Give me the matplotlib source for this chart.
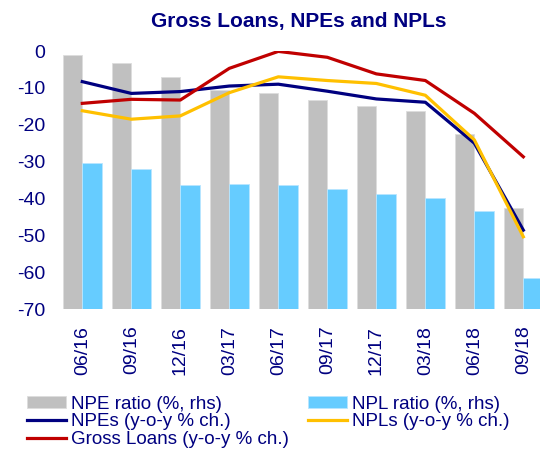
import matplotlib
matplotlib.use("Agg")
import matplotlib.pyplot as plt
import numpy as np

plt.rcParams['font.family'] = ['Liberation Sans', 'DejaVu Sans']
plt.rcParams['axes.unicode_minus'] = False

categories = ["06/16", "09/16", "12/16", "03/17", "06/17", "09/17", "12/17", "03/18", "06/18", "09/18"]
npe_ratio = [54.4, 53.4, 51.5, 49.7, 49.3, 48.3, 47.6, 46.9, 43.7, 33.7]
npl_ratio = [39.8, 39.0, 36.8, 36.9, 36.8, 36.3, 35.6, 35.1, 33.3, 24.2]
npes_yoy = [-8.3, -11.5, -11.0, -9.5, -9.0, -10.9, -13.0, -13.9, -25.0, -48.6]
npls_yoy = [-16.2, -18.5, -17.6, -11.3, -7.0, -8.0, -8.8, -12.0, -24.1, -50.4]
gross_loans_yoy = [-14.2, -13.1, -13.3, -4.7, -0.1, -1.7, -6.2, -8.0, -16.9, -28.7]

NAVY = '#000080'
GRAY = '#C0C0C0'
LBLUE = '#66CCFF'
GOLD = '#FFC000'
RED = '#C00000'

fig = plt.figure(figsize=(5.4, 4.5), dpi=100)
ax = fig.add_axes([0.107, 0.3133, 1.0145 - 0.107, 0.5733])
ax2 = ax.twinx()

x = np.arange(len(categories))
w = 0.4
ax2.bar(x - w / 2, npe_ratio, width=w, color=GRAY, edgecolor='#DDDDDD', linewidth=0.6,
        label='NPE ratio (%, rhs)')
ax2.bar(x + w / 2, npl_ratio, width=w, color=LBLUE, edgecolor='#B8E6FF', linewidth=0.6,
        label='NPL ratio (%, rhs)')
ax2.set_ylim(20, 55)
ax2.set_yticks([])
for s in ax2.spines.values():
    s.set_visible(False)

ax.plot(x, npes_yoy, color=NAVY, lw=2.3, label='NPEs (y-o-y % ch.)')
ax.plot(x, npls_yoy, color=GOLD, lw=2.3, label='NPLs (y-o-y % ch.)')
ax.plot(x, gross_loans_yoy, color=RED, lw=2.3, label='Gross Loans (y-o-y % ch.)')

ax.set_zorder(ax2.get_zorder() + 1)
ax.patch.set_visible(False)

ax.set_xlim(-0.5, len(categories) - 0.5)
ax.set_ylim(-70, 0)
ax.set_yticks(np.arange(-70, 1, 10))
ax.set_xticks(x)
ax.set_xticklabels(categories, rotation=90)
ax.tick_params(axis='y', length=0, pad=9, labelsize=14, labelcolor=NAVY)
ax.tick_params(axis='x', length=0, pad=12, labelsize=14, labelcolor=NAVY)
for s in ax.spines.values():
    s.set_visible(False)

fig.text(0.554, 0.953, 'Gross Loans, NPEs and NPLs', ha='center', va='center',
         fontsize=15, fontweight='bold', color=NAVY)

h1, l1 = ax2.get_legend_handles_labels()
h2, l2 = ax.get_legend_handles_labels()
handles = [h1[0], h2[0], h2[2], h1[1], h2[1]]
labels = [l1[0], l2[0], l2[2], l1[1], l2[1]]
leg = fig.legend(handles, labels, ncol=2, loc='upper left', bbox_to_anchor=(0.05, 0.121),
                 frameon=False, fontsize=13.5, handlelength=2.1, handleheight=0.54,
                 handletextpad=0.25, columnspacing=1.0, labelspacing=0.05, borderpad=0,
                 borderaxespad=0)
for t in leg.get_texts():
    t.set_color(NAVY)

fig.savefig('out.png', dpi=100)
